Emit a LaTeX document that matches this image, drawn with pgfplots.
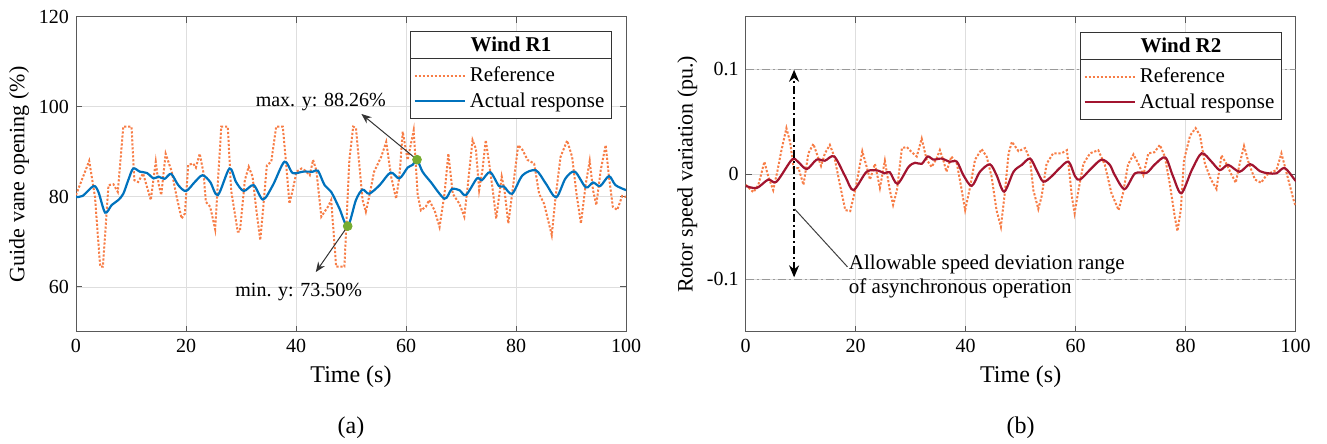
\documentclass[border=0pt]{standalone}
\usepackage{fontspec}
\setmainfont{Liberation Serif}
\usepackage{pgfplots}
\pgfplotsset{compat=1.18}
\usetikzlibrary{arrows.meta}
\definecolor{orng}{RGB}{247,125,70}
\definecolor{mblue}{RGB}{0,114,189}
\definecolor{mred}{RGB}{162,20,47}
\definecolor{mgreen}{RGB}{119,172,48}
\pgfplotsset{
  common/.style={
    scale only axis, width=275pt, height=157.65pt,
    xmin=0, xmax=100, xtick={0,20,...,100},
    grid=major, grid style={color=black!13, line width=0.4pt},
    axis line style={black!65, line width=0.5pt},
    tick style={black!65, line width=0.5pt}, tick align=inside, major tick length=3pt,
    ticklabel style={font=\fontsize{10}{12}\selectfont, black},
    xlabel style={font=\fontsize{12}{14}\selectfont},
    ylabel style={font=\fontsize{11}{13}\selectfont, yshift=-2pt},
    /pgf/number format/assume math mode=true,
    xlabel={Time (s)},
    legend cell align=left,
    legend image code/.code={\draw[##1] (0pt,0pt) -- (25pt,0pt);},
  },
  refstyle/.style={color=orng, line width=1pt, dash pattern=on 1.1pt off 0.9pt},
}
\begin{document}
\begin{tikzpicture}[font=\fontsize{10}{12}\selectfont]
\path[use as bounding box] (0,0) rectangle (663.5pt,222pt);
% ---------------- (a) ----------------
\begin{axis}[common, at={(38pt,56pt)},
  ymin=50, ymax=120, ytick={60,80,100,120},
  ylabel={Guide vane opening (\%)},
  legend style={name=legA, at={(axis cs:97.45,110.8)}, anchor=north east,
    draw=black!80, line width=0.5pt, fill=white, inner xsep=1.5pt,
    font=\fontsize{10.5}{12.6}\selectfont},
]
\addplot[refstyle] coordinates {
(0,80.4)(2.4,88.0)(3.45,80)(4.4,64.5)(4.9,64.5)(5.9,82.6)(6.8,82.8)(7.6,81.1)
(8.6,95.6)(10.1,95.6)(10.6,83.7)(11.3,83.3)(12.2,85.2)(13.6,79.3)(14.5,87.8)
(15.0,83)(15.5,80.4)(16.3,89.6)(17.4,85.6)(18.3,80)(19.2,75.2)(19.8,76.3)
(20.4,87.1)(21.3,87.4)(21.8,86.5)(22.5,89.6)(23.2,85.2)(23.6,78.9)(24.4,77.8)
(25.3,72.8)(26.4,95.6)(27.6,95.6)(28.2,81.5)(29.4,72.3)(29.8,72.3)(30.7,83.7)
(31.4,86.7)(32.1,84.5)(32.8,77.0)(33.5,70.4)(34.0,77)(34.7,87.0)(35.5,87.8)
(36.4,95.6)(37.6,95.6)(38.2,87.4)(38.8,78.5)(39.4,81.5)(40.1,85.6)(41.0,86.3)
(41.6,85.9)(42.5,84.8)(43.1,88.2)(43.7,85.9)(44.6,75.6)(45.8,77.8)(46.4,79.3)
(47.3,64.5)(48.8,64.5)(49.7,88.2)(50.4,95.6)(50.9,95.3)(52.1,79.3)(52.7,76.7)
(53.3,80)(54.2,85.6)(55.5,88.9)(56.4,92.2)(57.3,84.5)(58.2,79.6)(58.8,84.5)
(59.4,94.5)(60.3,88.2)(61.4,94.8)(62.1,80.7)(62.7,77.0)(63.6,77.8)(64.2,79.3)
(65.2,77)(66.1,73.3)(67.0,80.7)(67.7,89.6)(68.5,80.7)(69.7,78.5)(70.6,75.6)
(71.2,82.2)(72.1,92.6)(72.7,90.7)(73.3,81.5)(73.9,86)(74.5,92.6)(75.2,86.7)
(75.7,82.2)(76.4,75.2)(77.4,84.5)(77.9,81.5)(78.6,74.1)(79.3,80.7)(80.4,91.5)
(81.2,90.4)(82.1,88.2)(83.3,87.4)(84.2,80.7)(85.1,78.5)(86.5,71.5)(87.2,80)
(88.1,88.9)(89.3,92.5)(90.2,88.9)(91.0,80.7)(91.8,74.1)(92.7,83)(93.4,88)
(94.0,81.5)(94.6,78.2)(95.4,85.9)(96.3,91.5)(96.9,84.5)(97.6,77.8)(98.4,77.1)
(99.3,80.2)(100,80)
};
\addlegendentry{Reference}
\addplot[color=mblue, line width=1.1pt, smooth, tension=0.5] coordinates {
(0,80)(1.2,80.2)(3.2,82.4)(4.1,81)(5.3,76.5)(6.5,78.2)(7.7,79.3)(8.6,80.7)
(9.5,83.7)(10.4,86.3)(11.6,85.6)(12.9,85.3)(14.1,84.1)(15.0,84.5)(16.1,84)
(17.3,85.1)(18.6,82.6)(20.0,81.3)(21.6,83.3)(23.0,84.8)(24.4,83.3)(25.8,80.4)
(27.9,86.3)(29.1,83.3)(30.5,81.3)(32.3,82.6)(34.0,79.4)(35.8,82.6)(37.9,87.8)
(39.4,85.3)(41.3,85.6)(43.1,85.6)(44.0,85.8)(45.2,82.6)(46.4,81.1)(47.9,77.4)
(49.4,73.5)(50.9,79.3)(52.1,81.6)(53.3,80.7)(55.2,82.6)(57.2,85.4)(58.8,84.1)
(60.3,86.5)(61.2,87.1)(62.0,88.26)(63.0,85.6)(64.5,83.3)(67.0,79.6)(68.3,81.7)
(69.7,81.5)(70.9,80.4)(72.9,84.1)(73.8,83.7)(75.3,85.5)(76.9,82.4)(77.8,82.3)
(79.3,80.7)(81.2,84.8)(83.6,85.9)(85.4,83)(87.3,79.9)(89.0,84.1)(90.7,85.6)
(92.7,82.1)(94.0,83.2)(95.3,82.4)(96.9,84.6)(98.1,82.6)(100,81.5)
};
\addlegendentry{Actual response}
\addplot[only marks, mark=*, mark size=2.2pt, color=mgreen, forget plot]
  coordinates {(49.4,73.5)(62.0,88.26)};
\draw[-{Stealth[length=5pt,width=4pt]}, black!80, line width=0.5pt]
  (axis cs:62.0,88.26) -- (axis cs:51.9,98.4);
\draw[-{Stealth[length=5pt,width=4pt]}, black!80, line width=0.5pt]
  (axis cs:49.4,73.5) -- (axis cs:43.6,63.3);
\node at (axis cs:44.5,101.1) {max. y: 88.26\%};
\node at (axis cs:40.5,58.9) {min. y: 73.50\%};
\end{axis}
\draw[black!80, line width=0.5pt, fill=white] (legA.north west) rectangle ([yshift=13.5pt]legA.north east);
\node[font=\bfseries\fontsize{10.5}{12.6}\selectfont] at ([yshift=6.75pt]legA.north) {Wind R1};
% ---------------- (b) ----------------
\begin{axis}[common, at={(372.85pt,56pt)},
  ymin=-0.15, ymax=0.15, ytick={-0.1,0,0.1}, yticklabels={-0.1,0,0.1},
  ylabel={Rotor speed variation (pu.)},
  legend style={name=legB, at={(axis cs:97.5,0.1095)}, anchor=north east,
    draw=black!80, line width=0.5pt, fill=white, inner xsep=1.5pt,
    font=\fontsize{10.5}{12.6}\selectfont},
]
\addplot[color=black!40, line width=0.6pt, dash pattern=on 4pt off 1.5pt on 1pt off 1.5pt, forget plot]
  coordinates {(0,0.1)(100,0.1)};
\addplot[color=black!40, line width=0.6pt, dash pattern=on 4pt off 1.5pt on 1pt off 1.5pt, forget plot]
  coordinates {(0,-0.1)(100,-0.1)};
\addplot[refstyle] coordinates {
(0,-0.010)(1.4,-0.017)(2.3,-0.010)(3.4,0.012)(4.1,-0.002)(5.0,-0.015)(5.8,0.004)
(6.5,0.023)(7.4,0.044)(8.1,0.030)(8.7,0.006)(9.6,0.006)(10.5,-0.010)(11.4,0.020)
(12.3,0.029)(12.9,0.020)(13.7,0.008)(14.4,0.020)(15.3,0.028)(16.1,0.017)
(17.1,-0.009)(18.1,-0.034)(19.0,-0.035)(20.0,-0.013)(21.2,0.022)(22.0,0.007)
(22.6,-0.005)(23.5,0.010)(24.4,-0.013)(25.3,0.013)(26.2,-0.015)(26.8,-0.029)
(27.5,-0.015)(28.4,0.025)(29.3,0.026)(30.2,0.021)(31.1,0.017)(32.0,0.034)
(32.9,0.014)(33.8,0.007)(34.7,0.015)(35.3,0.023)(35.9,0.014)(36.5,0.0025)
(37.4,0.017)(38.4,0.010)(39.0,-0.007)(39.9,-0.034)(40.8,-0.012)(41.7,0.014)
(42.9,0.024)(43.8,0.017)(44.7,-0.002)(45.6,-0.034)(46.4,-0.050)(47.1,-0.018)
(47.8,0.020)(48.4,0.031)(49.6,0.022)(50.8,0.025)(51.7,0.014)(52.3,-0.015)
(53.2,-0.033)(53.8,-0.021)(54.7,0.010)(55.9,0.020)(57.4,0.020)(58.4,0.023)
(58.8,0.004)(59.3,-0.021)(59.8,-0.037)(60.5,-0.015)(61.4,0.010)(62.6,0.020)
(64.1,0.023)(65.3,0.009)(66.5,-0.018)(67.8,-0.034)(68.6,-0.018)(69.5,0.009)
(70.5,0.019)(71.4,0.010)(72.3,-0.0007)(73.2,0.020)(74.3,0.021)(75.3,0.028)
(76.2,0.017)(77.1,-0.009)(78.0,-0.040)(78.5,-0.054)(79.1,-0.034)(79.7,0.014)
(80.8,0.037)(81.8,0.044)(82.6,0.037)(83.5,0.010)(84.6,-0.005)(85.6,-0.014)
(86.5,0.018)(87.4,0.010)(88.2,0.001)(89.1,-0.008)(89.8,0.010)(90.6,0.027)
(91.5,0.010)(92.6,-0.005)(93.7,-0.008)(94.7,-0.0007)(95.6,0.002)(96.5,0.004)
(97.4,0.020)(98.2,0.004)(99.7,-0.026)(100,-0.030)
};
\addlegendentry{Reference}
\addplot[color=mred, line width=1.1pt, smooth, tension=0.5] coordinates {
(0,-0.011)(2,-0.013)(4.1,-0.005)(5.6,-0.007)(8.4,0.014)(9.5,0.012)(11.1,0.005)
(12.9,0.014)(14.4,0.013)(16.1,0.017)(18.1,-0.002)(19.6,-0.015)(22.0,0.0025)
(24.1,0.0035)(25.2,0.001)(26.2,0.002)(27.6,-0.009)(29.6,0.007)(30.8,0.011)
(32.0,0.010)(33.1,0.017)(34.1,0.014)(35.6,0.015)(37.1,0.012)(38.4,0.012)
(39.6,-0.001)(41.1,-0.011)(42.6,0.0025)(44.4,0.0095)(45.6,-0.0007)(47.0,-0.0165)
(48.7,0.0025)(50.2,0.009)(51.7,0.015)(52.9,0.004)(54.1,-0.007)(55.6,-0.002)
(57.1,0.006)(58.7,0.012)(59.9,-0.002)(60.8,-0.005)(62.9,0.006)(64.7,0.014)
(66.2,0.009)(67.1,-0.0007)(68.9,-0.014)(70.8,0.001)(72.9,0.0015)(74.4,0.0095)
(76.3,0.016)(77.7,-0.002)(79.2,-0.018)(81.1,0.004)(82.9,0.020)(84.7,0.012)
(86.2,0.004)(87.7,0.009)(89.8,0.0025)(91.7,0.0097)(93.5,0.003)(95.0,0.001)
(96.5,0.001)(98.0,0.006)(99.8,-0.005)(100,-0.006)
};
\addlegendentry{Actual response}
\draw[{Stealth[length=6pt,width=5pt]}-{Stealth[length=6pt,width=5pt]}, black, line width=0.9pt,
  dash pattern=on 4pt off 1.5pt on 1pt off 1.5pt]
  (axis cs:8.8,-0.098) -- (axis cs:8.8,0.0995);
\draw[black!75, line width=0.5pt] (axis cs:8.9,-0.033) -- (axis cs:18.5,-0.088);
\node[anchor=west, align=left, inner sep=0pt, font=\fontsize{10.5}{12}\selectfont]
  at (axis cs:18.7,-0.0975) {Allowable speed deviation range\\of asynchronous operation};
\end{axis}
\draw[black!80, line width=0.5pt, fill=white] (legB.north west) rectangle ([yshift=13.5pt]legB.north east);
\node[font=\bfseries\fontsize{10.5}{12.6}\selectfont] at ([yshift=6.75pt]legB.north) {Wind R2};
\node[font=\fontsize{12}{14}\selectfont] at (175.5pt,8pt) {(a)};
\node[font=\fontsize{12}{14}\selectfont] at (510.35pt,8pt) {(b)};
\end{tikzpicture}
\end{document}
